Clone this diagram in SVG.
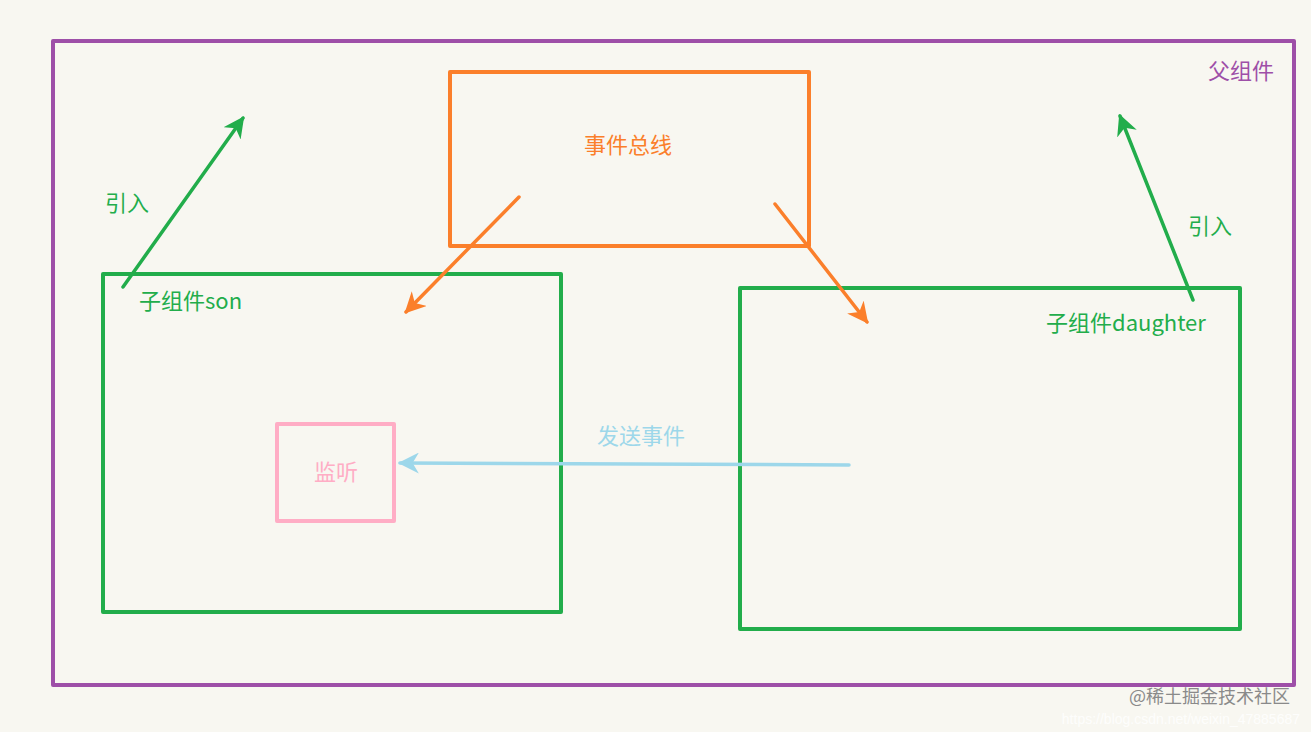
<svg xmlns="http://www.w3.org/2000/svg" width="1311" height="732" viewBox="0 0 1311 732">
<style>
text{font-family:"Noto Sans CJK SC","Liberation Sans",sans-serif;font-size:22px}
.box{fill:none;stroke-width:4;stroke-linejoin:round}
.g{stroke:#22ad4b}.o{stroke:#fb7f2b}
.ln{fill:none;stroke-width:3.5;stroke-linecap:round}
</style>
<defs>
<marker id="ag" viewBox="0 0 10 10" refX="9" refY="5" markerWidth="6" markerHeight="6" markerUnits="strokeWidth" orient="auto"><path d="M0,0 L10,5 L0,10 L3,5 z" fill="#22ad4b"/></marker>
<marker id="ao" viewBox="0 0 10 10" refX="9" refY="5" markerWidth="6" markerHeight="6" markerUnits="strokeWidth" orient="auto"><path d="M0,0 L10,5 L0,10 L3,5 z" fill="#fb7f2b"/></marker>
<marker id="ab" viewBox="0 0 10 10" refX="9" refY="5" markerWidth="6" markerHeight="6" markerUnits="strokeWidth" orient="auto"><path d="M0,0 L10,5 L0,10 L3,5 z" fill="#9dd7ea"/></marker>
</defs>
<rect width="1311" height="732" fill="#f8f7f1"/>
<g id="parent">
<rect class="box" x="53" y="41" width="1241" height="644" stroke="#9e4fa8"/>
<text x="1208" y="79" fill="#9e4fa8">父组件</text>
</g>
<g id="eventbus">
<rect class="box o" x="450" y="72" width="359" height="174"/>
<text x="628" y="153" fill="#fb7f2b" text-anchor="middle">事件总线</text>
</g>
<g id="son">
<rect class="box g" x="103" y="274" width="458" height="338"/>
<text x="139" y="309" fill="#22ad4b">子组件son</text>
</g>
<g id="daughter">
<rect class="box g" x="740" y="288" width="500" height="341"/>
<text x="1046" y="331" fill="#22ad4b">子组件daughter</text>
</g>
<g id="listen">
<rect class="box" x="277" y="424" width="117" height="97" stroke="#ffadc5" stroke-width="3.5"/>
<text x="336" y="480" fill="#ffadc5" text-anchor="middle">监听</text>
</g>
<g id="connectors">
<line class="ln" x1="519" y1="197" x2="406" y2="312" stroke="#fb7f2b" marker-end="url(#ao)"/>
<line class="ln" x1="775" y1="204" x2="867" y2="322" stroke="#fb7f2b" marker-end="url(#ao)"/>
<line class="ln" x1="123" y1="287" x2="243" y2="118" stroke="#22ad4b" marker-end="url(#ag)"/>
<line class="ln" x1="1193" y1="300" x2="1120" y2="116" stroke="#22ad4b" marker-end="url(#ag)"/>
<line class="ln" x1="849" y1="465" x2="400" y2="463" stroke="#9dd7ea" marker-end="url(#ab)"/>
<text x="105" y="211" fill="#22ad4b">引入</text>
<text x="1188" y="234" fill="#22ad4b">引入</text>
<text x="597" y="444" fill="#9dd7ea">发送事件</text>
</g>
<g id="watermark">
<text x="1290" y="703" fill="#8a8a8a" text-anchor="end" style="font-size:18px">@稀土掘金技术社区</text>
<text x="1300" y="724" fill="#ffffff" fill-opacity="0.85" text-anchor="end" style="font-family:'Liberation Sans',sans-serif;font-size:14px">https://blog.csdn.net/weixin_47885687</text>
</g>
</svg>
